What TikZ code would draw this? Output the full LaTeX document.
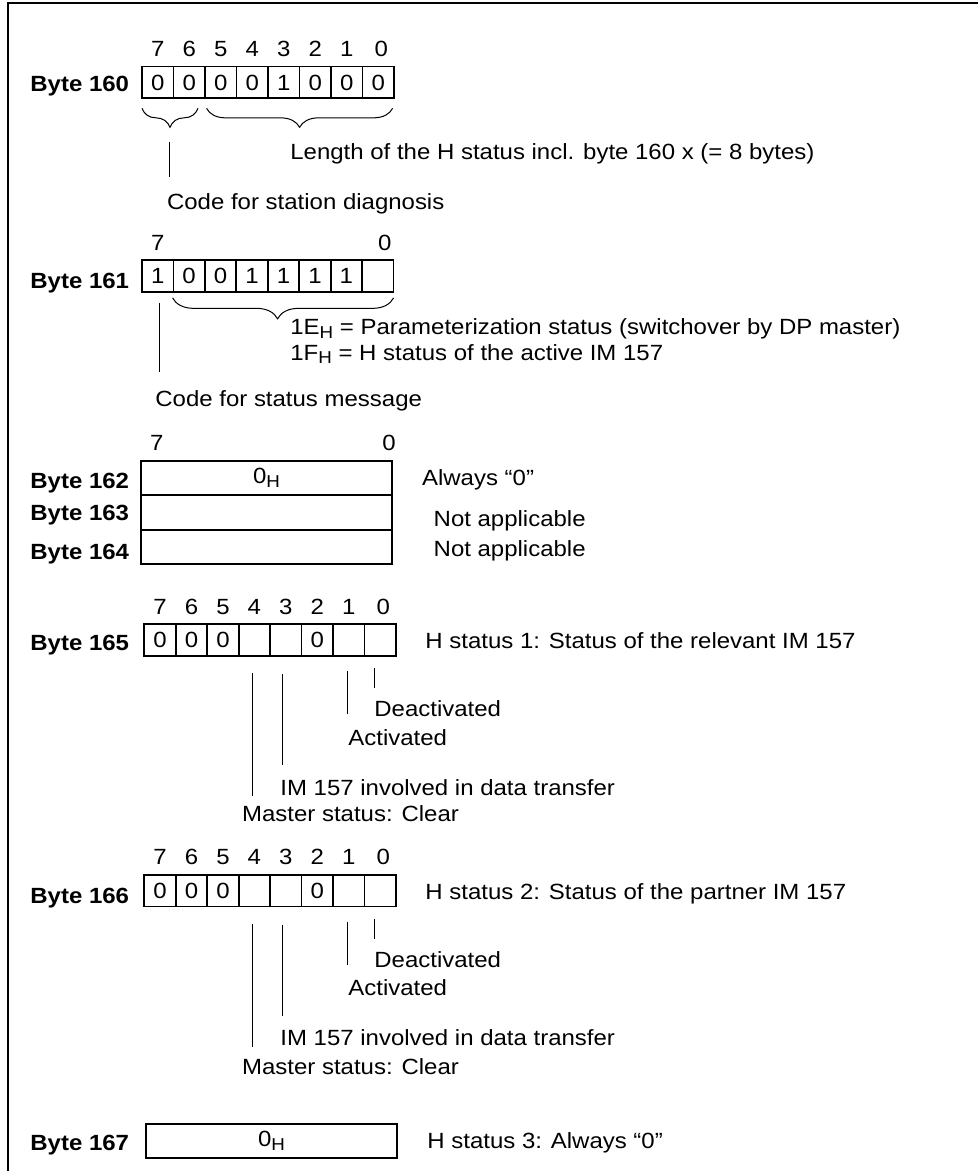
\documentclass[tikz,border=0pt]{standalone}
\usepackage{fontspec}
\setmainfont{Liberation Sans}[FakeStretch=1.09]
\usetikzlibrary{decorations.pathreplacing}
\newcommand{\diafont}{\fontsize{11pt}{13pt}\selectfont}
\newcommand{\hsub}{\raisebox{-1.7pt}{\fontsize{8.6pt}{9pt}\selectfont H}}

\begin{document}
\begin{tikzpicture}[x=0.5pt, y=-0.5pt, font=\diafont,
  bitcell/.style={draw, line width=0.85pt, minimum width=15.75pt, minimum height=15.85pt, inner sep=0pt, outer sep=0pt},
  bytebox/.style={draw, line width=0.85pt, minimum width=125.8pt, minimum height=17.25pt, inner sep=0pt, outer sep=0pt},
  bitnum/.style={anchor=base, inner sep=0pt},
  txt/.style={anchor=base west, inner sep=0pt},
  bytelabel/.style={anchor=base west, inner sep=0pt, font=\diafont\bfseries},
  callout/.style={line width=0.5pt},
  brc/.style={line width=0.5pt, decorate, decoration={brace, mirror, amplitude=9.5pt}}]

\useasboundingbox (0,0) rectangle (978,1171);
\draw[line width=0.9pt] (978,3) -- (8,3) -- (8,1171);

% byte 160
\node[bytelabel] (l160) at (30,91.7) {Byte 160};
\foreach \b/\v in {7/0,6/0,5/0,4/0,3/1,2/0,1/0,0/0}
  \node[bitcell] (b160-\b) at ({157.75+31.5*(7-\b)},82.5) {\v};
\foreach \b in {7,...,1}
  \node[bitnum] at ([yshift=5pt]b160-\b.north) {\b};
\node[bitnum] at ([xshift=1.5pt,yshift=5pt]b160-0.north) {0};
\draw[brc] ([yshift=-5pt]b160-7.south west) -- ([xshift=-3.5pt,yshift=-5pt]b160-6.south east);
\draw[brc] ([xshift=0.8pt,yshift=-5pt]b160-5.south west) -- ([xshift=-0.7pt,yshift=-5pt]b160-0.south east);
\node[txt] (len160) at (290,160) {Length of the H status incl. byte 160 x (= 8 bytes)};
\node[txt] (cs160) at (166.7,209.3) {Code for station diagnosis};
\coordinate (k160) at (169,142);
\draw[callout, shorten >=7.8pt] (k160) -- (k160 |- cs160.north);

% byte 161
\node[bytelabel] (l161) at (30,288.3) {Byte 161};
\foreach \b/\v in {7/1,6/0,5/0,4/1,3/1,2/1,1/1,0/{}}
  \node[bitcell] (b161-\b) at ({157.7+31.45*(7-\b)},276) {\v};
\node[bitnum] at ([yshift=5pt]b161-7.north) {7};
\node[bitnum] at ([xshift=3.5pt,yshift=5pt]b161-0.north) {0};
\draw[brc, decoration={amplitude=10.5pt, aspect=0.475}] ([xshift=-0.4pt,yshift=-3pt]b161-6.south west) -- ([yshift=-3pt]b161-0.south east);
\node[txt] (p161a) at (290,335) {1E\hsub{} = Parameterization status (switchover by DP master)};
\node[txt] (p161b) at (290,360) {1F\hsub{} = H status of the active IM 157};
\node[txt] (cs161) at (155,406) {Code for status message};
\coordinate (k161) at ([xshift=0.8pt,yshift=-5.5pt]b161-7.south);
\draw[callout, shorten >=9pt] (k161) -- (k161 |- cs161.north);

% bytes 162 to 164
\node[bytelabel] (l162) at (30,488.3) {Byte 162};
\node[bytelabel] (l163) at (30,520.7) {Byte 163};
\node[bytelabel] (l164) at (30,559.3) {Byte 164};
\node[bytebox] (b162) at (266.5,478) {0\hsub};
\node[bytebox, anchor=north] (b163) at (b162.south) {};
\node[bytebox, anchor=north] (b164) at (b163.south) {};
\node[bitnum] at ([xshift=8pt,yshift=5pt]b162.north west) {7};
\node[bitnum] at ([xshift=-1.6pt,yshift=5pt]b162.north east) {0};
\node[txt] (a162) at (421.7,485) {Always “0”};
\node[txt] (n163) at (433.3,526) {Not applicable};
\node[txt] (n164) at (433.3,556.7) {Not applicable};

% byte 165
\node[bytelabel] (l165) at (30,650.7) {Byte 165};
\foreach \b/\v in {7/0,6/0,5/0,4/{},3/{},2/0,1/{},0/{}}
  \node[bitcell] (b165-\b) at ({160+31.46*(7-\b)},640) {\v};
\foreach \b in {7,...,1}
  \node[bitnum] at ([yshift=5pt]b165-\b.north) {\b};
\node[bitnum] at ([xshift=1.5pt,yshift=5pt]b165-0.north) {0};
\node[txt] (hs165) at (425,648) {H status 1: Status of the relevant IM 157};
\node[txt] (de165) at (374,716.7) {Deactivated};
\node[txt] (ac165) at (348,745) {Activated};
\node[txt] (im165) at (280,795) {IM 157 involved in data transfer};
\node[txt] (ms165) at (241.7,821.7) {Master status: Clear};
\coordinate (k165-4) at ([xshift=-0.85pt,yshift=-8.5pt]b165-4.south);
\coordinate (k165-3) at ([xshift=-1.55pt,yshift=-9pt]b165-3.south);
\coordinate (k165-1) at ([xshift=-0.55pt,yshift=-7.5pt]b165-1.south);
\coordinate (k165-0) at ([xshift=-2.65pt,yshift=-6pt]b165-0.south);
\draw[callout, shorten >=4.7pt] (k165-4) -- (k165-4 |- ms165.north);
\draw[callout, shorten >=6.8pt] (k165-3) -- (k165-3 |- im165.north);
\draw[callout, shorten >=7.2pt] (k165-1) -- (k165-1 |- ac165.north);
\draw[callout, shorten >=6pt] (k165-0) -- (k165-0 |- de165.north);

% byte 166
\node[bytelabel] (l166) at (30,903) {Byte 166};
\foreach \b/\v in {7/0,6/0,5/0,4/{},3/{},2/0,1/{},0/{}}
  \node[bitcell] (b166-\b) at ({160+31.46*(7-\b)},890.7) {\v};
\foreach \b in {7,...,1}
  \node[bitnum] at ([yshift=5pt]b166-\b.north) {\b};
\node[bitnum] at ([xshift=1.5pt,yshift=5pt]b166-0.north) {0};
\node[txt] (hs166) at (425,899) {H status 2: Status of the partner IM 157};
\node[txt] (de166) at (374,967.4) {Deactivated};
\node[txt] (ac166) at (348,995.7) {Activated};
\node[txt] (im166) at (280,1045.7) {IM 157 involved in data transfer};
\node[txt] (ms166) at (241.7,1074) {Master status: Clear};
\coordinate (k166-4) at ([xshift=-0.85pt,yshift=-8.5pt]b166-4.south);
\coordinate (k166-3) at ([xshift=-1.55pt,yshift=-9pt]b166-3.south);
\coordinate (k166-1) at ([xshift=-0.55pt,yshift=-7.5pt]b166-1.south);
\coordinate (k166-0) at ([xshift=-2.65pt,yshift=-6pt]b166-0.south);
\draw[callout, shorten >=5.5pt] (k166-4) -- (k166-4 |- ms166.north);
\draw[callout, shorten >=6.8pt] (k166-3) -- (k166-3 |- im166.north);
\draw[callout, shorten >=7.2pt] (k166-1) -- (k166-1 |- ac166.north);
\draw[callout, shorten >=6pt] (k166-0) -- (k166-0 |- de166.north);

% byte 167
\node[bytelabel] (l167) at (30,1150) {Byte 167};
\node[bytebox, minimum height=17pt] (b167) at (271.5,1141) {0\hsub};
\node[txt] (hs167) at (427,1148) {H status 3: Always “0”};
\end{tikzpicture}
\end{document}
